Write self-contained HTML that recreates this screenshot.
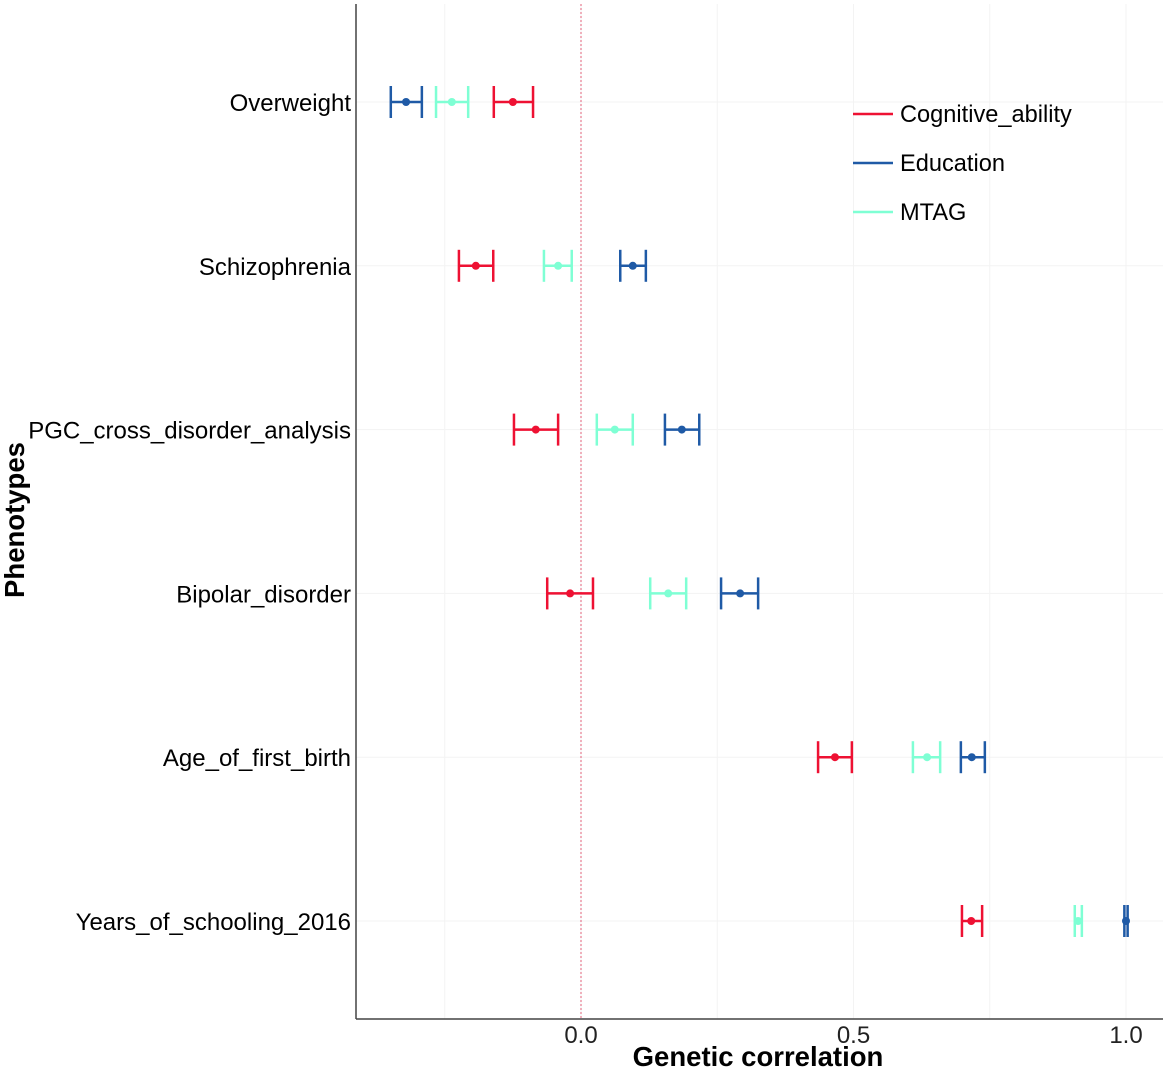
<!DOCTYPE html>
<html><head><meta charset="utf-8"><style>
body{margin:0;background:#fff;}
svg text{font-family:"Liberation Sans",Arial,sans-serif;}
</style></head><body>
<svg id="chart" width="1166" height="1069" xmlns="http://www.w3.org/2000/svg">
<g id="grid"></g>
<g id="marks"></g>
<line x1="356" y1="4" x2="356" y2="1019" stroke="#444" stroke-width="1.5"/>
<line x1="356" y1="1019" x2="1163" y2="1019" stroke="#444" stroke-width="1.5"/>
<g id="ylabels"></g>
<g id="xlabels"></g>
<text x="758" y="1066" text-anchor="middle" font-size="27.5" font-weight="bold">Genetic correlation</text>
<text transform="translate(24,520) rotate(-90)" text-anchor="middle" font-size="27.5" font-weight="bold">Phenotypes</text>
<g id="legend"></g>
</svg>
<script>
const phenotypes=["Overweight","Schizophrenia","PGC_cross_disorder_analysis","Bipolar_disorder","Age_of_first_birth","Years_of_schooling_2016"];
const seriesNames=["Cognitive_ability","Education","MTAG"];
const seriesColors=["#ee1133","#1f5aa6","#7fffd4"];
const cogEst=[-0.125,-0.193,-0.083,-0.020,0.466,0.716];
const cogLo=[-0.160,-0.224,-0.123,-0.062,0.435,0.699];
const cogHi=[-0.088,-0.161,-0.042,0.022,0.497,0.736];
const eduEst=[-0.321,0.095,0.185,0.292,0.717,1.0];
const eduLo=[-0.349,0.072,0.154,0.257,0.697,0.997];
const eduHi=[-0.292,0.119,0.217,0.325,0.741,1.003];
const mtagEst=[-0.237,-0.042,0.062,0.160,0.635,0.912];
const mtagLo=[-0.266,-0.068,0.029,0.127,0.609,0.906];
const mtagHi=[-0.207,-0.017,0.095,0.193,0.659,0.919];
const xTicks=[0,0.5,1];
const xTickLabels=["0.0","0.5","1.0"];
const xMinor=[-0.25,0.25,0.75];

const NS="http://www.w3.org/2000/svg";
const X=v=>581+(v-0)*545;
const Y=i=>102+i*163.8;
function mk(tag,attrs,parent,txt){const e=document.createElementNS(NS,tag);for(const k in attrs)e.setAttribute(k,attrs[k]);if(txt!==undefined)e.textContent=txt;parent.appendChild(e);return e;}
const grid=document.getElementById('grid'),marks=document.getElementById('marks');
xTicks.concat(xMinor).forEach(v=>{
 const l=mk('line',{x1:X(v),x2:X(v),y1:4,y2:1019,stroke:'#f3f3f3','stroke-width':1},grid);
 
 
});
phenotypes.forEach((p,i)=>{
 const l=mk('line',{x1:356,x2:1163,y1:Y(i),y2:Y(i),stroke:'#f3f3f3','stroke-width':1},grid);
 
 
 const t=mk('text',{x:351,y:Y(i)+9,'text-anchor':'end','font-size':24},document.getElementById('ylabels'),p);
 
 
});
const z=mk('line',{x1:X(0),x2:X(0),y1:4,y2:1019,stroke:'#e0607a','stroke-width':1,'stroke-dasharray':'2,2'},grid);


xTicks.forEach((v,i)=>{
 const t=mk('text',{x:X(v),y:1043,'text-anchor':'middle','font-size':24,fill:'#222'},document.getElementById('xlabels'),xTickLabels[i]);
 
 
});
const series=[[cogEst,cogLo,cogHi],[eduEst,eduLo,eduHi],[mtagEst,mtagLo,mtagHi]];
series.forEach((s,si)=>{
 const c=seriesColors[si];
 phenotypes.forEach((p,i)=>{
  const g=mk('g',{},marks);
  
  
  const y=Y(i),x1=X(s[1][i]),x2=X(s[2][i]);
  mk('line',{x1:x1,x2:x2,y1:y,y2:y,stroke:c,'stroke-width':2.5},g);
  mk('line',{x1:x1,x2:x1,y1:y-16,y2:y+16,stroke:c,'stroke-width':2.5},g);
  mk('line',{x1:x2,x2:x2,y1:y-16,y2:y+16,stroke:c,'stroke-width':2.5},g);
  mk('circle',{cx:X(s[0][i]),cy:y,r:4,fill:c},g);
 });
});
const lg=document.getElementById('legend');
seriesNames.forEach((n,i)=>{
 const g=mk('g',{},lg);
 
 
 const y=114+i*49;
 mk('line',{x1:853,x2:893,y1:y,y2:y,stroke:seriesColors[i],'stroke-width':2.5},g);
 mk('text',{x:900,y:y+8,'font-size':23.6},g,n);
});
</script>
</body></html>
